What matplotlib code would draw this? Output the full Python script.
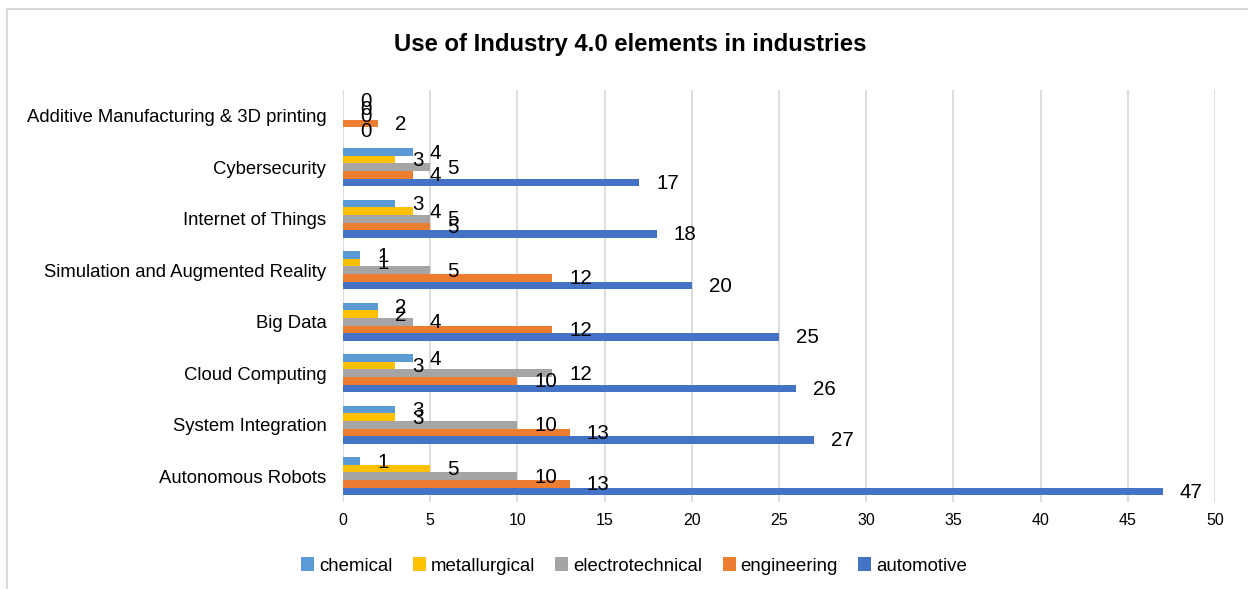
import numpy as np
import matplotlib.pyplot as plt
from matplotlib.patches import Rectangle

plt.rcParams['font.family'] = ['Liberation Sans', 'DejaVu Sans']

# Данные: категории снизу вверх, значения по отраслям
categories = ['Autonomous Robots', 'System Integration', 'Cloud Computing', 'Big Data',
              'Simulation and Augmented Reality', 'Internet of Things', 'Cybersecurity',
              'Additive Manufacturing & 3D printing']
chemical = [1, 3, 4, 2, 1, 3, 4, 0]
metallurgical = [5, 3, 3, 2, 1, 4, 3, 0]
electrotechnical = [10, 10, 12, 4, 5, 5, 5, 0]
engineering = [13, 13, 10, 12, 12, 5, 4, 2]
automotive = [47, 27, 26, 25, 20, 18, 17, 0]

series_names = ['chemical', 'metallurgical', 'electrotechnical', 'engineering', 'automotive']
series_values = [chemical, metallurgical, electrotechnical, engineering, automotive]
colors = ['#5B9BD5', '#FFC000', '#A5A5A5', '#ED7D31', '#4472C4']

W, H = 1248, 589
fig = plt.figure(figsize=(W / 100, H / 100), dpi=100)

# Рамка области диаграммы
fig.add_artist(Rectangle((7 / W, -0.1), 1.2, 1 - 9 / H + 0.1, transform=fig.transFigure,
                         fill=False, edgecolor='#d9d9d9', linewidth=1.5))

ax = fig.add_axes([343 / W, 1 - 502 / H, 872 / W, 412 / H])

y = np.arange(len(categories))
h = 0.146
offsets = [2 * h, h, 0, -h, -2 * h]

for name, vals, col, off in zip(series_names, series_values, colors, offsets):
    ax.barh(y + off, vals, height=h, color=col, label=name, zorder=3)
    for yi, v in zip(y, vals):
        ax.annotate(str(v), (v, yi + off), xytext=(17, -1), textcoords='offset pixels',
                    ha='left', va='center', fontsize=14.8, color='black', zorder=4)

ax.set_xlim(0, 50)
ax.set_ylim(-0.5, len(categories) - 0.5)
ax.set_xticks(range(0, 51, 5))
ax.set_yticks(y)
ax.set_yticklabels(categories, fontsize=13.3)
ax.tick_params(axis='x', labelsize=11.5, length=0, pad=8)
ax.tick_params(axis='y', length=0, pad=12)
ax.grid(axis='x', color='#d9d9d9', linewidth=1.3, zorder=0)
for s in ax.spines.values():
    s.set_visible(False)

fig.text(630 / W, 1 - 44 / H, 'Use of Industry 4.0 elements in industries',
         ha='center', va='center', fontsize=17.2, fontweight='bold')

fig.legend(loc='center', bbox_to_anchor=(634 / W, 1 - 566 / H), ncol=5, frameon=False,
           fontsize=13.4, handlelength=0.7, handleheight=0.7, handletextpad=0.25,
           columnspacing=1.1)

fig.savefig('out.png', dpi=100)
